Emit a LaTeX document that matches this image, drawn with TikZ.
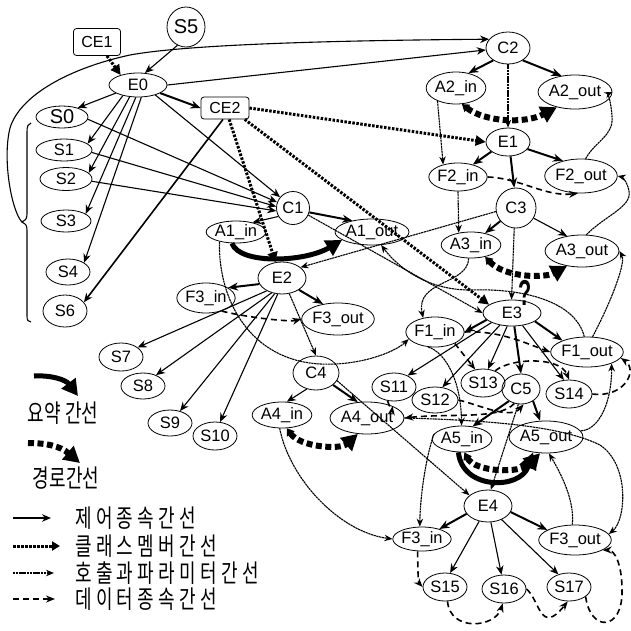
\documentclass[tikz,border=0pt]{standalone}
\usepackage{fontspec}
\setmainfont{Liberation Sans}
\newfontfamily\kr{Noto Sans CJK KR}
\usetikzlibrary{shapes.geometric,arrows.meta}
\newcommand{\krt}[1]{\scalebox{0.72}[1]{\kr\fontsize{25}{25}\selectfont #1}}
\newcommand{\gp}{\hspace{6pt}}
\begin{document}
\begin{tikzpicture}[x=1pt,y=-1pt,
 nd/.style={ellipse,draw,line width=0.8pt,inner sep=0pt,font=\fontsize{16.5}{16.5}\selectfont},
 rb/.style={rectangle,rounded corners=3pt,draw,line width=0.8pt,inner sep=0pt,font=\fontsize{16}{16}\selectfont},
 ctl/.style={-{Stealth[length=9pt,width=7.5pt]},line width=1.1pt},
 ctlb/.style={-{Stealth[length=10pt,width=8pt]},line width=2pt},
 mem/.style={-{Triangle[length=10pt,width=10pt]},line width=3pt,dash pattern=on 2.5pt off 1.5pt},
 cal/.style={-{Stealth[length=8pt,width=6.5pt]},line width=1.1pt,dash pattern=on 2.2pt off 0.6pt},
 dat/.style={-{Stealth[length=9pt,width=7pt]},line width=1.6pt,dash pattern=on 6pt off 4pt},
 pth/.style={{Triangle[length=7pt,width=9pt]}-{Triangle[length=16pt,width=17pt]},line width=6pt,dash pattern=on 6pt off 3.5pt},
 pthl/.style={-{Triangle[length=16pt,width=17pt]},line width=6pt,dash pattern=on 6pt off 3.5pt},
 sumr/.style={-{Triangle[length=16pt,width=17pt]},line width=5pt},
 lgt/.style={anchor=west,inner sep=0pt}
]
\useasboundingbox (0,0) rectangle (631,630);
\fill[white] (0,0) rectangle (631,630);

% ---------------- nodes ----------------
\node[rb,minimum width=47,minimum height=27] (CE1) at (97,42) {CE1};
\node[nd,minimum width=38,minimum height=40,font=\fontsize{20}{20}\selectfont] (S5) at (186,27) {S5};
\node[nd,minimum width=58,minimum height=24] (E0) at (138,85) {E0};
\node[rb,minimum width=48,minimum height=22] (CE2) at (225,108) {CE2};
\node[nd,minimum width=52,minimum height=22,font=\fontsize{20}{20}\selectfont] (S0) at (62,117) {S0};
\node[nd,minimum width=56,minimum height=22] (S1) at (64,150) {S1};
\node[nd,minimum width=52,minimum height=23] (S2) at (66,179) {S2};
\node[nd,minimum width=50,minimum height=22] (S3) at (66,221) {S3};
\node[nd,minimum width=44,minimum height=26] (S4) at (68,272) {S4};
\node[nd,minimum width=44,minimum height=32] (S6) at (65,311) {S6};
\node[nd,minimum width=33,minimum height=33] (C1) at (293,208) {C1};
\node[nd,minimum width=54,minimum height=22] (A1in) at (236,232) {A1\_in};
\node[nd,minimum width=58,minimum height=26] (A1out) at (372,232) {A1\_out};
\node[nd,minimum width=48,minimum height=32] (E2) at (282,278) {E2};
\node[nd,minimum width=56,minimum height=30] (F3ain) at (206,298) {F3\_in};
\node[nd,minimum width=56,minimum height=32] (F3aout) at (338,319) {F3\_out};
\node[nd,minimum width=46,minimum height=34] (C4) at (316,373) {C4};
\node[nd,minimum width=54,minimum height=26] (A4in) at (282,415) {A4\_in};
\node[nd,minimum width=56,minimum height=32] (A4out) at (367,418) {A4\_out};
\node[nd,minimum width=44,minimum height=28] (S7) at (121,357) {S7};
\node[nd,minimum width=44,minimum height=26] (S8) at (143,386) {S8};
\node[nd,minimum width=44,minimum height=26] (S9) at (170,423) {S9};
\node[nd,minimum width=44,minimum height=28] (S10) at (215,436) {S10};
\node[nd,minimum width=44,minimum height=32] (C2) at (508,48) {C2};
\node[nd,minimum width=48,minimum height=32] (A2in) at (456,88) {A2\_in};
\node[nd,minimum width=56,minimum height=34] (A2out) at (575,92) {A2\_out};
\node[nd,minimum width=44,minimum height=28] (E1) at (508,142) {E1};
\node[nd,minimum width=50,minimum height=28] (F2in) at (458,177) {F2\_in};
\node[nd,minimum width=56,minimum height=34] (F2out) at (581,176) {F2\_out};
\node[nd,minimum width=40,minimum height=40] (C3) at (516,208) {C3};
\node[nd,minimum width=50,minimum height=26] (A3in) at (471,245) {A3\_in};
\node[nd,minimum width=60,minimum height=32] (A3out) at (582,251) {A3\_out};
\node[nd,minimum width=58,minimum height=26] (E3) at (512,313) {E3};
\node[nd,minimum width=56,minimum height=30] (F1in) at (435,332) {F1\_in};
\node[nd,minimum width=70,minimum height=30] (F1out) at (587,352) {F1\_out};
\node[nd,minimum width=44,minimum height=28] (S11) at (394,387) {S11};
\node[nd,minimum width=46,minimum height=26] (S12) at (435,400) {S12};
\node[nd,minimum width=44,minimum height=28] (S13) at (483,383) {S13};
\node[nd,minimum width=38,minimum height=30] (C5) at (521,389) {C5};
\node[nd,minimum width=46,minimum height=28] (S14) at (569,394) {S14};
\node[nd,minimum width=54,minimum height=26] (A5in) at (462,439) {A5\_in};
\node[nd,minimum width=54,minimum height=32] (A5out) at (546,437) {A5\_out};
\node[nd,minimum width=48,minimum height=32] (E4) at (488,506) {E4};
\node[nd,minimum width=56,minimum height=24] (F3bin) at (422,539) {F3\_in};
\node[nd,minimum width=56,minimum height=30] (F3bout) at (575,540) {F3\_out};
\node[nd,minimum width=44,minimum height=28] (S15) at (445,587) {S15};
\node[nd,minimum width=44,minimum height=28] (S16) at (504,589) {S16};
\node[nd,minimum width=44,minimum height=28] (S17) at (569,587) {S17};
\node[inner sep=0pt,font=\fontsize{36}{36}\selectfont\bfseries] (qm) at (525,293) {\scalebox{0.6}[1]{?}};

% ---------------- brace and long curve ----------------
\coordinate (brtip) at (22,222);
\draw[line width=1.1pt] (31,123) .. controls (28,124) and (27,126) .. (27,132) -- (27,214)
  .. controls (27,219) and (25,221) .. (brtip) .. controls (25,223) and (27,225) .. (27,230)
  -- (27,316) .. controls (27,320) and (28,322) .. (31,322);
\draw[ctl] (brtip) .. controls (12,212) and (2,160) .. (10,128)
  .. controls (20,95) and (70,68) .. (130,55) .. controls (200,42) and (400,40) .. (C2.155);

% ---------------- class member edges ----------------
\draw[mem] (CE1) -- (E0.150);
\draw[mem] (CE2.east) -- (E1.west);
\draw[mem] (CE2.-70) -- (E2.112);
\draw[mem] (CE2.-30) -- (E3.160);

% ---------------- E0 ----------------
\draw[ctl] (S5.-115) -- (E0.60);
\draw[ctl] (E0.east) -- (C2.185);
\draw[ctl] (E0.200) -- (S0.30);
\draw[ctl] (E0.215) -- (S1.15);
\draw[ctl] (E0.235) -- (S2.15);
\draw[ctl] (E0.260) -- (S3.20);
\draw[ctl] (E0.285) -- (S4.30);
\draw[ctlb] (E0.-20) -- (CE2.west);
\draw[ctl] (E0.-30) -- (C1.140);
\draw[ctl] (S0.-5) -- (C1.160);
\draw[ctl] (S1.-5) -- (C1.175);
\draw[ctl] (S2.-5) -- (C1.190);
\draw[ctl,line width=1.6pt] (CE2.-100) -- (S6.25);

% ---------------- C1 / E2 ----------------
\draw[ctl] (C1.210) -- (A1in.30);
\draw[ctlb] (C1.-15) -- (A1out.150);
\draw[cal] (C1.-25) -- (E3.180);
\draw[sumr] (A1in.-110) .. controls (240,265) and (305,262) .. (A1out.-165);
\draw[cal] (C3.190) -- (E2.30);
\draw[ctlb] (E2.195) -- (F3ain.25);
\draw[ctlb] (E2.-35) -- (F3aout.135);
\draw[ctl] (E2.220) -- (S7.30);
\draw[ctl] (E2.235) -- (S8.40);
\draw[ctl] (E2.245) -- (S9.50);
\draw[ctl] (E2.255) -- (S10.70);
\draw[cal] (E2.-65) -- (C4.north);
\draw[dat] (F3ain.-40) .. controls (250,318) and (290,322) .. (F3aout.west);
\draw[cal] (A1in.-150) .. controls (218,300) and (250,360) .. (320,364)
  .. controls (360,366) and (395,352) .. (F1in.195);

% ---------------- C4 ----------------
\draw[ctl] (C4.-120) -- (A4in.70);
\draw[ctlb] (C4.-35) -- (A4out.120);
\draw[cal] (C4.-20) -- (E4.150);
\draw[pth] (A4in.-70) .. controls (300,447) and (340,450) .. (A4out.-120);
\draw[cal] (A4in.-100) .. controls (290,480) and (340,532) .. (F3bin.west);

% ---------------- C2 / E1 / C3 ----------------
\draw[ctlb] (C2.220) -- (A2in.50);
\draw[ctlb] (C2.-40) -- (A2out.130);
\draw[cal] (C2.south) -- (E1.north);
\draw[cal] (A2in.-145) -- (F2in.140);
\draw[pth] (A2in.-70) .. controls (485,122) and (525,124) .. (A2out.-140);
\draw[ctlb] (E1.210) -- (F2in.40);
\draw[ctlb] (E1.-20) -- (F2out.140);
\draw[ctlb] (E1.-80) -- (C3.95);
\draw[dat] (F2in.east) .. controls (520,178) and (545,197) .. (F2out.-100);
\draw[cal] (F2out.75) .. controls (596,140) and (614,136) .. (612,116) .. controls (611,102) and (608,94) .. (A2out.east);
\draw[cal] (F2in.-90) -- (A3in.135);
\draw[ctlb] (C3.220) -- (A3in.40);
\draw[ctl] (C3.-30) -- (A3out.135);
\draw[cal] (C3.-95) -- (E3.92);
\draw[pth] (A3in.-40) .. controls (505,278) and (545,278) .. (A3out.-135);
\draw[cal] (F1out.70) .. controls (612,300) and (626,262) .. (A3out.east);
\draw[cal] (A3out.75) .. controls (606,215) and (632,207) .. (629,191) .. controls (627,181) and (622,177) .. (F2out.east);

% ---------------- E3 ----------------
\draw[ctlb] (E3.195) -- (F1in.east);
\draw[ctl] (E3.205) -- (S11.40);
\draw[ctl] (E3.225) -- (S12.60);
\draw[ctl] (E3.250) -- (S13.70);
\draw[ctlb] (E3.-80) -- (C5.north);
\draw[ctl] (E3.-50) -- (S14.110);
\draw[ctlb] (E3.-20) -- (F1out.155);
\draw[cal] (F1out.100) .. controls (575,300) and (520,288) .. (470,290)
  .. controls (430,290) and (400,270) .. (A1out.-55);
\draw[cal] (A3in.-100) .. controls (468,285) and (415,280) .. (F1in.130);
\draw[dat] (F1in.east) .. controls (500,330) and (530,345) .. (F1out.west);
\draw[dat] (F1in.-30) -- (S13.120);
\draw[cal] (F1in.-115) .. controls (445,352) and (461,380) .. (A5in.92);
\draw[dat] (S13.45) .. controls (510,358) and (560,356) .. (S14.north);
\draw[dat] (S14.east) .. controls (625,398) and (638,370) .. (F1out.-10);
\draw[cal] (A5out.10) .. controls (600,430) and (612,400) .. (F1out.-25);

% ---------------- C5 ----------------
\draw[ctlb] (C5.225) -- (A5in.50);
\draw[ctlb] (C5.-45) -- (A5out.110);
\draw[cal] (C5.-100) -- (E4.80);
\draw[dat] (S12.east) .. controls (480,405) and (510,420) .. (C5.-80);
\draw[dat] (C5.-115) .. controls (500,420) and (450,413) .. (A4out.east);
\draw[dat] (S11.-115) .. controls (389,406) and (392,410) .. (A4out.25);
\draw[cal] (A4out.east) .. controls (480,420) and (560,425) .. (600,445)
  .. controls (630,465) and (626,520) .. (F3bout.10);
\draw[sumr] (A5in.-105) .. controls (462,490) and (520,490) .. (A5out.-130);
\draw[pth] (A5in.-80) .. controls (475,472) and (520,474) .. (A5out.-110);
\draw[cal] (A5in.170) .. controls (425,460) and (420,500) .. (F3bin.100);

% ---------------- E4 ----------------
\draw[ctlb] (E4.200) -- (F3bin.30);
\draw[ctlb] (E4.-15) -- (F3bout.160);
\draw[ctl] (E4.240) -- (S15.70);
\draw[ctl] (E4.-80) -- (S16.100);
\draw[ctl] (E4.-45) -- (S17.130);
\draw[cal] (F3bout.100) .. controls (575,500) and (560,472) .. (A5out.-80);
\draw[dat] (F3bin.-110) .. controls (418,570) and (418,582) .. (S15.west);
\draw[dat] (S15.-80) .. controls (450,632) and (495,628) .. (S16.-95);
\draw[dat] (S16.east) .. controls (540,600) and (540,636) .. (S17.-95);
\draw[dat] (S17.-30) .. controls (590,632) and (623,632) .. (622,590)
  .. controls (622,565) and (615,550) .. (F3bout.-20);

% ---------------- legend ----------------
\coordinate (la1) at (34,376); \coordinate (la2) at (78,396);
\draw[sumr] (la1) .. controls (52,375) and (66,380) .. (la2);
\node[inner sep=0pt] (lt1) at (63,413) {\krt{요약 간선}};
\coordinate (lb1) at (28,443); \coordinate (lb2) at (80,463);
\draw[pthl] (lb1) .. controls (46,443) and (60,446) .. (lb2);
\node[inner sep=0pt] (lt2) at (66,478) {\krt{경로간선}};
\coordinate (lc1) at (13,518); \coordinate (lc2) at (51,518);
\draw[ctl] (lc1) -- (lc2);
\node[lgt] (lt3) at (75,518) {\krt{제\gp 어\gp 종\gp 속\gp 간\gp 선}};
\coordinate (ld1) at (13,546); \coordinate (ld2) at (60,546);
\draw[mem,-{Triangle[length=8pt,width=9pt]}] (ld1) -- (ld2);
\node[lgt] (lt4) at (75,546) {\krt{클\gp 래\gp 스\gp 멤\gp 버\gp 간\gp 선}};
\coordinate (le1) at (13,573); \coordinate (le2) at (54,573);
\draw[cal] (le1) -- (le2);
\node[lgt] (lt5) at (75,573) {\krt{호\gp 출\gp 과\gp 파\gp 라\gp 미\gp 터\gp 간\gp 선}};
\coordinate (lf1) at (13,599); \coordinate (lf2) at (55,599);
\draw[dat] (lf1) -- (lf2);
\node[lgt] (lt6) at (75,599) {\krt{데\gp 이\gp 터\gp 종\gp 속\gp 간\gp 선}};
\end{tikzpicture}
\end{document}
